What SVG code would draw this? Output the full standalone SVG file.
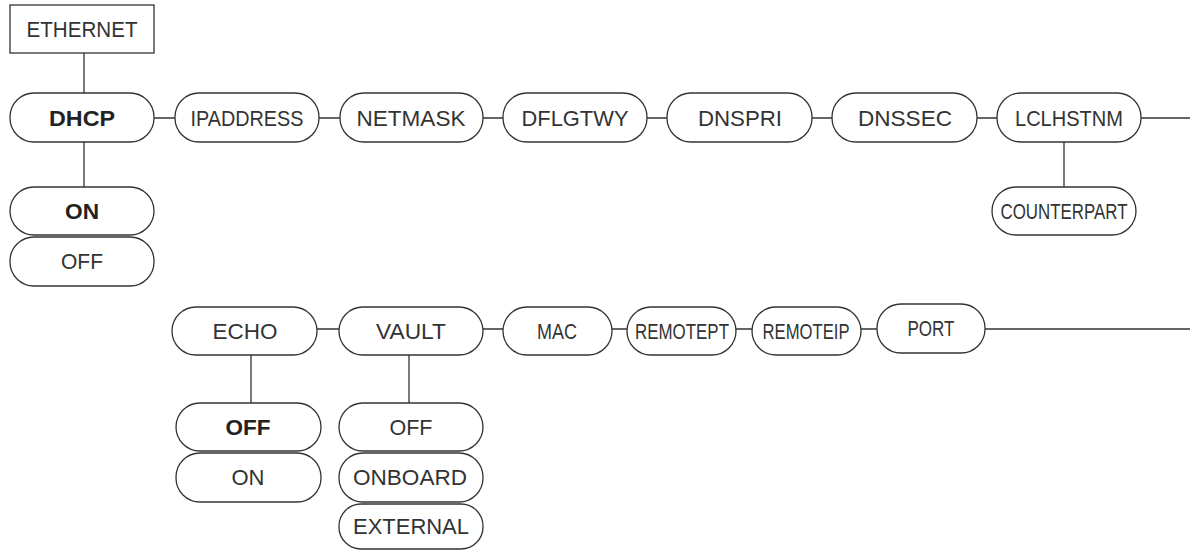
<svg xmlns="http://www.w3.org/2000/svg" width="1190" height="550" viewBox="0 0 1190 550">
<style>
.n{fill:#fff;stroke:#333;stroke-width:1.3}
.t{font-family:"Liberation Sans",Arial,sans-serif;font-size:22px;fill:#333;text-anchor:middle}
.b{font-weight:bold;fill:#222}
.c{stroke:#333;stroke-width:1.3;fill:none}
</style>
<rect width="1190" height="550" fill="#fff"/>
<g id="connectors">
<path class="c" d="M84 53V95M84 142V187M154 118H175M319 118H340M483 118H503M647 118H667M812 118H832M977 118H997M1141 118H1190M1064 142V187M317 329H339M483 329H503M612 329H627M736 329H752M861 329H877M985 329H1190M251 355V403M409 355V403"/>
</g>
<g id="ethernet"><rect class="n" x="10" y="5" width="144" height="48"/><text class="t" x="82" y="37" textLength="111" lengthAdjust="spacingAndGlyphs">ETHERNET</text></g>
<g id="dhcp"><rect class="n" x="10" y="93" width="144" height="49" rx="24"/><text class="t b" x="82" y="126" textLength="66" lengthAdjust="spacingAndGlyphs">DHCP</text></g>
<g id="dhcp-on"><rect class="n" x="10" y="187" width="144" height="48" rx="24"/><text class="t b" x="82" y="219" textLength="34" lengthAdjust="spacingAndGlyphs">ON</text></g>
<g id="dhcp-off"><rect class="n" x="10" y="237" width="144" height="49" rx="24"/><text class="t" x="82" y="269" textLength="42" lengthAdjust="spacingAndGlyphs">OFF</text></g>
<g id="ipaddress"><rect class="n" x="175" y="93" width="144" height="49" rx="24"/><text class="t" x="247" y="126" textLength="113" lengthAdjust="spacingAndGlyphs">IPADDRESS</text></g>
<g id="netmask"><rect class="n" x="340" y="93" width="143" height="49" rx="24"/><text class="t" x="411" y="126" textLength="109" lengthAdjust="spacingAndGlyphs">NETMASK</text></g>
<g id="dflgtwy"><rect class="n" x="503" y="93" width="144" height="49" rx="24"/><text class="t" x="575" y="126" textLength="107" lengthAdjust="spacingAndGlyphs">DFLGTWY</text></g>
<g id="dnspri"><rect class="n" x="667" y="93" width="145" height="49" rx="24"/><text class="t" x="740" y="126" textLength="84" lengthAdjust="spacingAndGlyphs">DNSPRI</text></g>
<g id="dnssec"><rect class="n" x="832" y="93" width="145" height="49" rx="24"/><text class="t" x="905" y="126" textLength="94" lengthAdjust="spacingAndGlyphs">DNSSEC</text></g>
<g id="lclhstnm"><rect class="n" x="997" y="93" width="144" height="49" rx="24"/><text class="t" x="1069" y="126" textLength="108" lengthAdjust="spacingAndGlyphs">LCLHSTNM</text></g>
<g id="counterpart"><rect class="n" x="992" y="187" width="144" height="48" rx="24"/><text class="t" x="1064" y="219" textLength="127" lengthAdjust="spacingAndGlyphs">COUNTERPART</text></g>
<g id="echo"><rect class="n" x="172" y="307" width="145" height="48" rx="24"/><text class="t" x="245" y="339" textLength="65" lengthAdjust="spacingAndGlyphs">ECHO</text></g>
<g id="echo-off"><rect class="n" x="176" y="403" width="145" height="48" rx="24"/><text class="t b" x="248" y="435" textLength="45" lengthAdjust="spacingAndGlyphs">OFF</text></g>
<g id="echo-on"><rect class="n" x="176" y="453" width="145" height="49" rx="24"/><text class="t" x="248" y="485" textLength="33" lengthAdjust="spacingAndGlyphs">ON</text></g>
<g id="vault"><rect class="n" x="339" y="307" width="144" height="48" rx="24"/><text class="t" x="411" y="339" textLength="70" lengthAdjust="spacingAndGlyphs">VAULT</text></g>
<g id="vault-off"><rect class="n" x="339" y="403" width="144" height="48" rx="24"/><text class="t" x="411" y="435" textLength="43" lengthAdjust="spacingAndGlyphs">OFF</text></g>
<g id="vault-onboard"><rect class="n" x="339" y="453" width="144" height="49" rx="24"/><text class="t" x="410" y="485" textLength="114" lengthAdjust="spacingAndGlyphs">ONBOARD</text></g>
<g id="vault-external"><rect class="n" x="339" y="504" width="144" height="45" rx="22"/><text class="t" x="411" y="534" textLength="116" lengthAdjust="spacingAndGlyphs">EXTERNAL</text></g>
<g id="mac"><rect class="n" x="503" y="307" width="109" height="48" rx="24"/><text class="t" x="557" y="339" textLength="40" lengthAdjust="spacingAndGlyphs">MAC</text></g>
<g id="remotept"><rect class="n" x="627" y="307" width="109" height="48" rx="24"/><text class="t" x="682" y="339" textLength="94" lengthAdjust="spacingAndGlyphs">REMOTEPT</text></g>
<g id="remoteip"><rect class="n" x="752" y="307" width="109" height="48" rx="24"/><text class="t" x="806" y="339" textLength="87" lengthAdjust="spacingAndGlyphs">REMOTEIP</text></g>
<g id="port"><rect class="n" x="877" y="304" width="108" height="49" rx="24"/><text class="t" x="931" y="336" textLength="47" lengthAdjust="spacingAndGlyphs">PORT</text></g>
</svg>
